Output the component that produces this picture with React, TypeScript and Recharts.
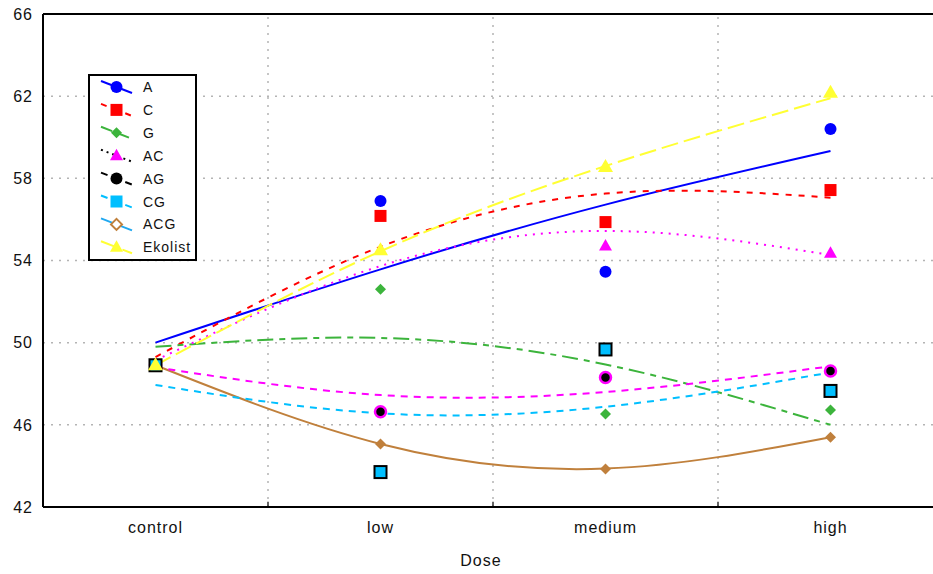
import React from 'react';
import { ComposedChart, Line, Scatter, XAxis, YAxis, CartesianGrid, ReferenceLine } from 'recharts';

const categories = ['control', 'low', 'medium', 'high'];
const xIndex = [0, 1, 2, 3];
const yTicks = [42, 46, 50, 54, 58, 62, 66];
const boundaries = [0.5, 1.5, 2.5];

// observed means
const ptA = [48.9, 56.9, 53.45, 60.4];
const ptC = [48.9, 56.17, 55.87, 57.43];
const ptG = [48.9, 52.6, 46.53, 46.72];
const ptAC = [48.9, 54.5, 54.7, 54.35];
const ptAG = [48.9, 46.64, 48.3, 48.62];
const ptCG = [48.9, 43.7, 49.67, 47.65];
const ptACG = [48.9, 45.07, 43.85, 45.4];
const ptEkolist = [48.9, 54.5, 58.55, 62.17];

// fitted curve values at each dose
const fitA = [50.0, 53.57, 56.72, 59.33];
const fitC = [49.3, 54.67, 57.26, 57.06];
const fitG = [49.8, 50.23, 48.94, 46.0];
const fitAC = [49.14, 53.73, 55.44, 54.27];
const fitAG = [48.8, 47.45, 47.6, 48.85];
const fitCG = [47.94, 46.56, 46.88, 48.55];
const fitACG = [48.9, 45.07, 43.87, 45.4];
const fitEkolist = [48.9, 54.45, 58.6, 61.9];

const FONT = '"Liberation Sans", Arial, sans-serif';

type Kind = 'circle' | 'square' | 'diamond' | 'triangle' | 'ring' | 'boxed' | 'bigtriangle' | 'hollowdiamond';

interface Series {
  name: string;
  pts: number[];
  fit: number[];
  color: string;
  dash?: string;
  kind: Kind;
  markerFill: string;
  markerStroke?: string;
  legendLine: string;
  legendDash?: string;
  legendKind: Kind;
}

const series: Series[] = [
  { name: 'A', pts: ptA, fit: fitA, color: '#0000ff', kind: 'circle', markerFill: '#0000ff', legendLine: '#0000ff', legendKind: 'circle' },
  { name: 'C', pts: ptC, fit: fitC, color: '#ff0000', dash: '6 7', kind: 'square', markerFill: '#ff0000', legendLine: '#ff0000', legendDash: '6 7', legendKind: 'square' },
  { name: 'G', pts: ptG, fit: fitG, color: '#3cb43c', dash: '16 6 6 6', kind: 'diamond', markerFill: '#3cb43c', legendLine: '#3cb43c', legendDash: '12 6', legendKind: 'diamond' },
  { name: 'AC', pts: ptAC, fit: fitAC, color: '#ff00ff', dash: '2 6', kind: 'triangle', markerFill: '#ff00ff', legendLine: '#000000', legendDash: '2 4', legendKind: 'triangle' },
  { name: 'AG', pts: ptAG, fit: fitAG, color: '#ff00ff', dash: '7 6', kind: 'ring', markerFill: '#000000', markerStroke: '#ff00ff', legendLine: '#000000', legendDash: '7 6', legendKind: 'circle' },
  { name: 'CG', pts: ptCG, fit: fitCG, color: '#00bfff', dash: '7 6', kind: 'boxed', markerFill: '#00bfff', markerStroke: '#000000', legendLine: '#00bfff', legendDash: '7 6', legendKind: 'square' },
  { name: 'ACG', pts: ptACG, fit: fitACG, color: '#c0803c', kind: 'diamond', markerFill: '#c0803c', legendLine: '#20a8f0', legendKind: 'hollowdiamond' },
  { name: 'Ekolist', pts: ptEkolist, fit: fitEkolist, color: '#ffff33', dash: '17 6', kind: 'bigtriangle', markerFill: '#ffff33', legendLine: '#ffff33', legendDash: '17 6', legendKind: 'triangle' },
];

const drawOrder = ['A', 'C', 'G', 'AC', 'ACG', 'AG', 'CG', 'Ekolist'];

function markerEl(kind: Kind, cx: number, cy: number, fill: string, stroke?: string) {
  switch (kind) {
    case 'circle':
      return <circle cx={cx} cy={cy} r={6} fill={fill} />;
    case 'ring':
      return <circle cx={cx} cy={cy} r={5.5} fill={fill} stroke={stroke} strokeWidth={2.5} />;
    case 'square':
      return <rect x={cx - 6} y={cy - 6} width={12} height={12} fill={fill} />;
    case 'boxed':
      return <rect x={cx - 6} y={cy - 6} width={12} height={12} fill={fill} stroke={stroke} strokeWidth={2} />;
    case 'diamond':
      return <polygon points={`${cx},${cy - 5.5} ${cx + 5.5},${cy} ${cx},${cy + 5.5} ${cx - 5.5},${cy}`} fill={fill} />;
    case 'hollowdiamond':
      return <polygon points={`${cx},${cy - 5.5} ${cx + 5.5},${cy} ${cx},${cy + 5.5} ${cx - 5.5},${cy}`} fill="#ffffff" stroke="#c0803c" strokeWidth={2} />;
    case 'triangle':
      return <polygon points={`${cx},${cy - 7} ${cx + 6.5},${cy + 4.5} ${cx - 6.5},${cy + 4.5}`} fill={fill} />;
    case 'bigtriangle':
      return <polygon points={`${cx},${cy - 8} ${cx + 7.5},${cy + 5} ${cx - 7.5},${cy + 5}`} fill={fill} />;
  }
  return null;
}

const toData = (vals: number[]) => xIndex.map((x, i) => ({ x, y: vals[i] }));

const XTick = (props: any) => {
  const { x, payload } = props;
  return (
    <text x={x} y={533} textAnchor="middle" fontFamily={FONT} fontSize={16} letterSpacing={1} fill="#111">
      {categories[payload.value]}
    </text>
  );
};

const YTick = (props: any) => {
  const { y, payload } = props;
  return (
    <text x={33} y={y} dy="0.36em" textAnchor="end" fontFamily={FONT} fontSize={16} letterSpacing={1} fill="#111">
      {payload.value}
    </text>
  );
};

const LegendBox = () => {
  const rowY = (i: number) => 13 + i * 22.9;
  return (
    <svg width={112} height={190} style={{ position: 'absolute', left: 87, top: 73 }}>
      <rect x={2} y={2} width={107} height={185} fill="#ffffff" stroke="#000" strokeWidth={2} />
      {series.map((s, i) => {
        const y = rowY(i) + 1;
        return (
          <g key={s.name}>
            <line x1={14} y1={y - 6} x2={45} y2={y + 6} stroke={s.legendLine} strokeWidth={2} strokeDasharray={s.legendDash} />
            {markerEl(s.legendKind, 29.5, y, s.markerFill)}
            <text x={56} y={y} dy="0.36em" fontFamily={FONT} fontSize={14} letterSpacing={1} fill="#111">
              {s.name}
            </text>
          </g>
        );
      })}
    </svg>
  );
};

export default function App() {
  const ordered = drawOrder.map((n) => series.find((s) => s.name === n)!);
  return (
    <div style={{ position: 'absolute', left: 0, top: 0, width: 933, height: 574, overflow: 'hidden', background: '#fff' }}>
      <ComposedChart width={960} height={574} margin={{ top: 14, right: 17, bottom: 7, left: 0 }}>
        <CartesianGrid vertical={false} stroke="#b4b4b4" strokeDasharray="2 6" strokeWidth={1.5} />
        <XAxis
          type="number"
          dataKey="x"
          domain={[-0.5, 3.5]}
          ticks={xIndex}
          allowDataOverflow
          height={60}
          axisLine={{ stroke: '#000', strokeWidth: 2 }}
          tickLine={false}
          tick={<XTick />}
          label={{ value: 'Dose', position: 'insideBottom', offset: 1, dx: -12, fontFamily: FONT, fontSize: 16, letterSpacing: 1, fill: '#111' }}
        />
        <YAxis
          type="number"
          domain={[42, 66]}
          ticks={yTicks}
          allowDataOverflow
          width={43}
          axisLine={{ stroke: '#000', strokeWidth: 2 }}
          tickLine={false}
          tick={<YTick />}
        />
        {boundaries.map((b) => (
          <ReferenceLine key={'v' + b} x={b} stroke="#b4b4b4" strokeDasharray="2 6" strokeWidth={1.5} />
        ))}
        {boundaries.map((b) => (
          <ReferenceLine key={'t' + b} segment={[{ x: b, y: 42 }, { x: b, y: 42.25 }]} stroke="#333" strokeWidth={1.5} />
        ))}
        <ReferenceLine y={66} stroke="#000" strokeWidth={2} />
        {ordered.map((s) => (
          <Line
            key={'fit' + s.name}
            data={toData(s.fit)}
            dataKey="y"
            type="natural"
            stroke={s.color}
            strokeWidth={2}
            strokeDasharray={s.dash}
            dot={false}
            activeDot={false}
            isAnimationActive={false}
          />
        ))}
        {ordered.map((s) => (
          <Scatter
            key={'pt' + s.name}
            data={toData(s.pts)}
            dataKey="y"
            isAnimationActive={false}
            shape={(p: any) => markerEl(s.kind, p.cx, p.cy, s.markerFill, s.markerStroke)}
          />
        ))}
      </ComposedChart>
      <LegendBox />
    </div>
  );
}
